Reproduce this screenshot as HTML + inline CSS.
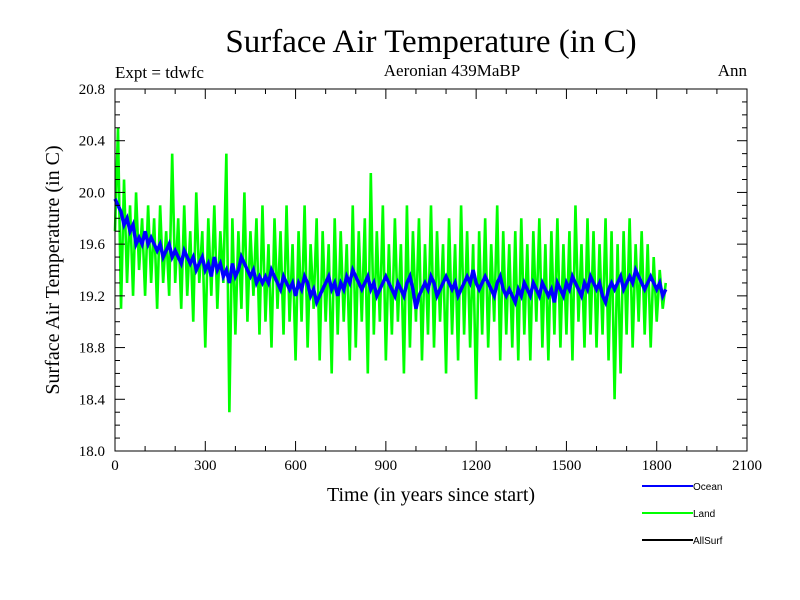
<!DOCTYPE html>
<html><head><meta charset="utf-8"><style>
body{margin:0;background:#fff}
svg{display:block;font-family:"Liberation Serif",serif}
</style></head><body>
<svg id="c" width="800" height="600">
<text x="431" y="52" font-size="33" text-anchor="middle">Surface Air Temperature (in C)</text>
<text x="115" y="78" font-size="17">Expt = tdwfc</text>
<text x="452" y="76" font-size="17" text-anchor="middle">Aeronian 439MaBP</text>
<text x="747" y="76" font-size="17" text-anchor="end">Ann</text>
<text transform="translate(59,270) rotate(-90)" font-size="20" text-anchor="middle">Surface Air Temperature (in C)</text>
<text x="431" y="501" font-size="20" text-anchor="middle">Time (in years since start)</text>
<g id="series"></g>
<g id="axes"></g>
<g id="legend" font-family="Liberation Sans,sans-serif" font-size="10"></g>
</svg>
<script>
const xTicks=[0,300,600,900,1200,1500,1800,2100];
const yTicks=[18.0,18.4,18.8,19.2,19.6,20.0,20.4,20.8];
const step=10;
const land=[19.7,20.5,19.1,20.1,19.3,19.9,19.2,20.0,19.4,19.8,
19.2,19.9,19.3,19.8,19.1,19.9,19.3,19.7,19.2,20.3,
19.3,19.8,19.1,19.9,19.2,19.7,19.0,20.0,19.3,19.7,
18.8,19.8,19.2,19.9,19.1,19.7,19.3,20.3,18.3,19.8,
18.9,19.7,19.1,20.0,19.0,19.7,19.2,19.8,18.9,19.9,
19.0,19.6,18.8,19.8,19.1,19.7,18.9,19.9,19.0,19.6,
18.7,19.7,19.0,19.9,18.8,19.6,19.1,19.8,18.7,19.7,
19.0,19.6,18.6,19.8,18.9,19.7,19.0,19.6,18.7,19.9,
18.8,19.7,19.0,19.8,18.6,20.15,18.9,19.7,19.0,19.9,
18.7,19.6,18.9,19.8,19.0,19.6,18.6,19.9,18.8,19.7,
19.0,19.8,18.7,19.6,18.9,19.9,18.8,19.7,19.0,19.6,
18.6,19.8,18.9,19.6,18.7,19.9,18.9,19.7,18.8,19.6,
18.4,19.7,18.9,19.8,18.8,19.6,19.0,19.9,18.7,19.7,
18.9,19.6,18.8,19.7,18.7,19.8,18.9,19.6,18.7,19.7,
19.0,19.8,18.8,19.6,18.7,19.7,18.9,19.8,18.8,19.6,
18.9,19.7,18.7,19.9,19.0,19.6,18.8,19.8,18.9,19.7,
18.8,19.6,18.9,19.8,18.7,19.7,18.4,19.6,18.6,19.7,
18.9,19.8,18.8,19.6,19.0,19.7,18.9,19.6,18.8,19.5,
19.0,19.4,19.1,19.3];
const ocean=[19.95,19.9,19.85,19.75,19.8,19.7,19.75,19.6,19.65,19.6,
19.7,19.6,19.65,19.6,19.55,19.6,19.5,19.55,19.6,19.5,
19.55,19.5,19.45,19.55,19.5,19.45,19.5,19.4,19.45,19.5,
19.4,19.45,19.35,19.5,19.4,19.45,19.35,19.4,19.3,19.45,
19.35,19.4,19.5,19.45,19.4,19.35,19.4,19.3,19.35,19.3,
19.35,19.3,19.4,19.35,19.3,19.25,19.35,19.3,19.25,19.3,
19.2,19.3,19.25,19.35,19.3,19.2,19.25,19.15,19.2,19.25,
19.3,19.35,19.25,19.3,19.2,19.3,19.25,19.35,19.3,19.4,
19.35,19.3,19.25,19.3,19.35,19.25,19.3,19.2,19.25,19.3,
19.35,19.3,19.25,19.2,19.3,19.25,19.2,19.3,19.35,19.25,
19.1,19.2,19.25,19.3,19.25,19.35,19.3,19.2,19.25,19.3,
19.35,19.3,19.25,19.3,19.2,19.25,19.3,19.35,19.3,19.4,
19.3,19.25,19.3,19.35,19.3,19.25,19.2,19.3,19.35,19.25,
19.2,19.25,19.2,19.15,19.25,19.2,19.3,19.25,19.2,19.3,
19.25,19.2,19.3,19.25,19.2,19.25,19.15,19.3,19.25,19.2,
19.3,19.25,19.35,19.3,19.25,19.2,19.3,19.25,19.35,19.3,
19.25,19.3,19.2,19.15,19.25,19.3,19.25,19.3,19.35,19.25,
19.3,19.35,19.3,19.4,19.35,19.3,19.25,19.3,19.35,19.3,
19.25,19.3,19.2,19.25];
const legendNames=["Ocean","Land","AllSurf"];
const legendColors=["#0000ff","#00ff00","#000000"];

const L=115,R=747,T=89,B=451,xMin=0,xMax=2100,yMin=18.0,yMax=20.8;
const sx=v=>L+(v-xMin)/(xMax-xMin)*(R-L);
const sy=v=>B-(v-yMin)/(yMax-yMin)*(B-T);
const NS="http://www.w3.org/2000/svg";
function mk(tag,attrs,parent){const e=document.createElementNS(NS,tag);for(const k in attrs)e.setAttribute(k,attrs[k]);parent.appendChild(e);return e;}
const sg=document.getElementById('series'),ag=document.getElementById('axes'),lg=document.getElementById('legend');

const lp=mk('polyline',{points:land.map((v,i)=>sx(i*step)+','+sy(v)).join(' '),fill:'none',stroke:'#00ff00','stroke-width':2.6},sg);


const op=mk('polyline',{points:ocean.map((v,i)=>sx(i*step)+','+sy(v)).join(' '),fill:'none',stroke:'#0000ff','stroke-width':3.5},sg);



const fr=mk('rect',{x:L,y:T,width:R-L,height:B-T,fill:'none',stroke:'#000','stroke-width':1},ag);


for(let v=xMin;v<=xMax;v+=100){const maj=v%300===0,len=maj?10:5;
 mk('line',{x1:sx(v),x2:sx(v),y1:B,y2:B-len,stroke:'#000'},ag);
 mk('line',{x1:sx(v),x2:sx(v),y1:T,y2:T+len,stroke:'#000'},ag);}
xTicks.forEach(v=>{const t=mk('text',{x:sx(v),y:B+19,'font-size':15,'text-anchor':'middle'},ag);t.textContent=v;
 
 });
for(let i=0;i<=28;i++){const v=yMin+i*0.1,maj=i%4===0,len=maj?10:5;
 mk('line',{x1:L,x2:L+len,y1:sy(v),y2:sy(v),stroke:'#000'},ag);
 mk('line',{x1:R,x2:R-len,y1:sy(v),y2:sy(v),stroke:'#000'},ag);}
yTicks.forEach(v=>{const t=mk('text',{x:L-10,y:sy(v)+5,'font-size':15,'text-anchor':'end'},ag);t.textContent=v.toFixed(1);
 
 });
legendNames.forEach((n,i)=>{const y=486+i*27;
 const ln=mk('line',{x1:642,x2:693,y1:y,y2:y,stroke:legendColors[i],'stroke-width':2},lg);
 
 
 const t=mk('text',{x:693,y:y+4},lg);t.textContent=n;
 
 });
</script>
</body></html>
